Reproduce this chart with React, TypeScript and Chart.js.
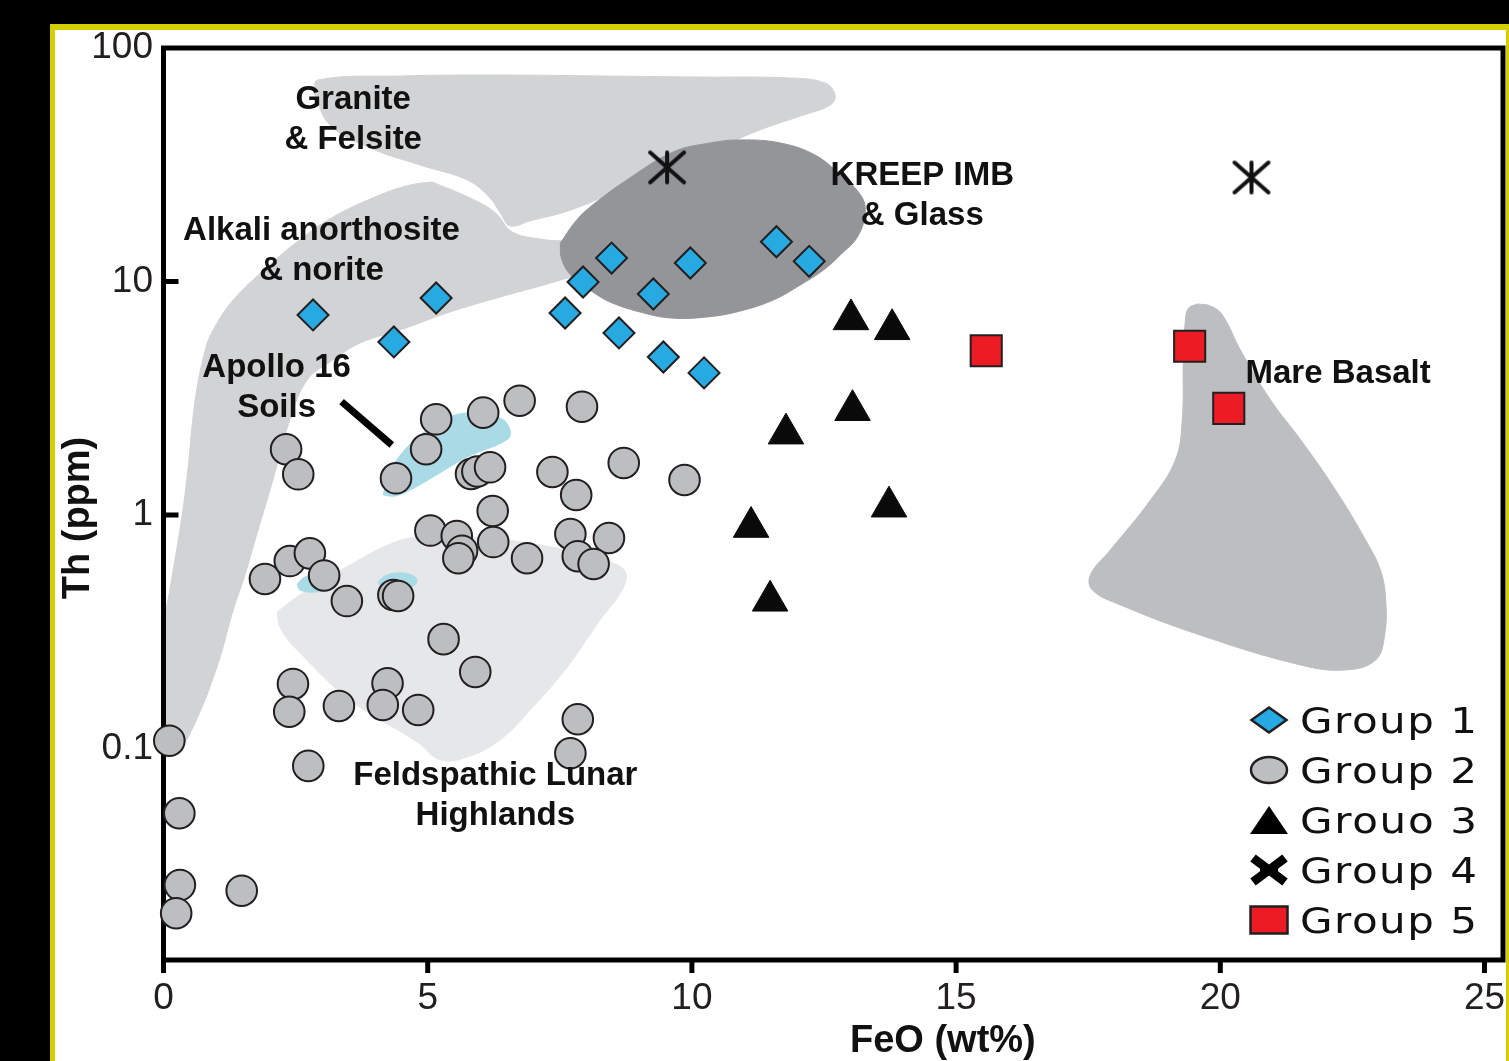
import React, { useEffect, useRef } from 'react';
import { Chart, registerables } from 'chart.js';

Chart.register(...registerables);

// ---------- axes ----------
const xTickValues = [0, 5, 10, 15, 20, 25];
const xTickLabels = ['0', '5', '10', '15', '20', '25'];
const yTickValues = [0.1, 1, 10, 100];
const yTickLabels = ['0.1', '1', '10', '100'];
const xMin = 0;
const xMax = 25.35;
const yMin = 0.01242;
const yMax = 100;
const xTitle = 'FeO (wt%)';
const yTitle = 'Th (ppm)';

const seriesNames = ['Group 1', 'Group 2', 'Grouo 3', 'Group 4', 'Group 5'];

// ---------- series (FeO wt%, Th ppm) ----------
const group1FeO = [2.83, 4.36, 5.16, 7.6, 7.94, 8.48, 8.62, 9.27, 9.46, 9.97, 10.23, 11.6, 12.22];
const group1Th = [7.19, 5.51, 8.5, 7.33, 9.95, 12.6, 6.02, 8.84, 4.75, 12.0, 4.06, 14.8, 12.2];

const group2FeO = [
  2.32, 2.55, 4.4, 4.97, 5.16, 6.05, 6.74, 7.92,
  5.82, 5.94, 6.18, 7.36, 7.81, 8.71, 9.86,
  6.23, 5.05, 5.55, 5.65, 5.58, 6.24, 6.88, 7.7, 8.43, 7.84, 8.14,
  1.92, 2.39, 2.77, 3.04, 3.47, 4.35, 4.44, 5.3, 5.9,
  2.45, 2.38, 3.32, 4.24, 4.15, 4.82,
  0.11, 2.74, 7.84, 7.7, 0.3, 0.31, 1.48, 0.24,
];
const group2Th = [
  1.912, 1.494, 1.436, 1.912, 2.57, 2.743, 3.087, 2.909,
  1.498, 1.536, 1.601, 1.528, 1.218, 1.67, 1.412,
  1.04, 0.858, 0.813, 0.703, 0.653, 0.766, 0.653, 0.829, 0.797, 0.666, 0.617,
  0.532, 0.635, 0.685, 0.551, 0.428, 0.454, 0.45, 0.294, 0.2127,
  0.1889, 0.1437, 0.1521, 0.1902, 0.1536, 0.1462,
  0.108, 0.0842, 0.1334, 0.0954, 0.0528, 0.026, 0.0246, 0.0197,
];

const group3FeO = [13.01, 13.79, 13.04, 11.78, 13.73, 11.12, 11.48];
const group3Th = [6.88, 6.24, 2.81, 2.23, 1.085, 0.888, 0.429];

const group4FeO = [9.53, 20.59];
const group4Th = [30.8, 27.9];

const group5FeO = [15.57, 19.42, 20.16];
const group5Th = [5.05, 5.28, 2.86];

// ---------- compositional fields (FeO, Th) ----------
const graniteOutline: [number, number][] = [
  [2.85, 64.2], [2.92, 72.9], [4.48, 75.9], [6.37, 76.6], [8.26, 75.9], [10.16, 75.1], [11.86, 74.4],
  [12.52, 70.8], [12.71, 62.9], [12.62, 57.0], [12.05, 51.1], [11.29, 44.6], [10.54, 37.7], [9.78, 31.5],
  [8.64, 24.7], [7.7, 20.2], [6.94, 18.2], [6.56, 17.3], [6.37, 19.7], [6.18, 22.8], [5.75, 27.2],
  [4.86, 31.5], [3.91, 37.3], [3.15, 46.8],
];
const alkaliOutline: [number, number][] = [
  [5.08, 26.7], [5.8, 22.8], [6.28, 19.7], [6.6, 16.3], [7.22, 15.1], [7.98, 14.3], [7.98, 11.2],
  [7.51, 10.15], [6.37, 8.58], [5.42, 7.4], [4.48, 6.2], [3.72, 5.45], [3.15, 4.52], [2.72, 3.79],
  [2.39, 2.55], [2.07, 1.41], [1.79, 0.863], [1.54, 0.553], [1.32, 0.392], [1.01, 0.223], [0.56, 0.1236],
  [0.27, 0.0986], [0.05, 0.1035], [0.01, 0.1613], [0.03, 0.355], [0.12, 0.477], [0.31, 0.863],
  [0.44, 1.41], [0.6, 3.11], [0.79, 5.09], [0.94, 6.2], [1.32, 8.33], [1.96, 11.5], [2.58, 15.1],
  [3.21, 18.9], [4.1, 23.5], [4.67, 25.9],
];
const kreepOutline: [number, number][] = [
  [7.51, 14.6], [7.79, 18.0], [8.07, 20.8], [8.83, 27.8], [9.65, 35.9], [10.35, 39.2], [10.92, 40.4],
  [11.67, 39.2], [12.33, 34.8], [12.81, 28.6], [13.19, 23.5], [13.28, 19.8], [13.13, 15.5], [12.81, 13.0],
  [12.49, 11.2], [12.05, 9.66], [11.54, 8.33], [10.92, 7.48], [10.29, 7.05], [9.59, 6.98], [9.02, 7.4],
  [8.45, 8.17], [8.07, 9.2], [7.7, 10.7], [7.53, 12.6],
];
const mareOutline: [number, number][] = [
  [19.57, 8.01], [19.81, 7.86], [20.04, 7.19], [20.38, 5.09], [20.95, 3.11], [21.52, 2.1], [22.18, 1.28],
  [22.75, 0.781], [23.03, 0.581], [23.13, 0.4325], [23.11, 0.306], [22.94, 0.2393], [22.37, 0.2169],
  [21.52, 0.2278], [19.62, 0.306], [18.11, 0.412], [17.58, 0.477], [17.54, 0.553], [17.92, 0.708],
  [18.68, 1.159], [19.15, 1.72], [19.28, 2.55], [19.3, 4.61], [19.34, 6.84], [19.4, 7.7],
];
const feldspathicOutline: [number, number][] = [
  [2.15, 0.384], [2.58, 0.454], [3.53, 0.611], [4.38, 0.766], [4.86, 0.805], [5.8, 0.805], [7.13, 0.744],
  [8.45, 0.629], [8.74, 0.57], [8.68, 0.477], [8.26, 0.355], [7.64, 0.223], [6.99, 0.1505], [6.37, 0.1088],
  [5.75, 0.092], [5.24, 0.0893], [4.8, 0.1066], [3.53, 0.1613], [2.53, 0.264], [2.21, 0.328],
];
const apolloSoilOutline: [number, number][] = [
  [4.16, 1.218], [4.25, 1.483], [4.44, 1.754], [4.76, 2.1], [5.23, 2.5], [5.71, 2.73], [6.37, 2.6],
  [6.56, 2.31], [6.5, 2.1], [5.75, 1.772], [5.1, 1.454], [4.67, 1.28], [4.38, 1.206],
];
const apolloPatchA: [number, number][] = [
  [2.53, 0.506], [2.68, 0.543], [2.93, 0.553], [3.15, 0.527], [3.15, 0.487], [2.87, 0.468], [2.58, 0.477],
];
const apolloPatchB: [number, number][] = [
  [4.06, 0.516], [4.19, 0.548], [4.44, 0.565], [4.7, 0.553], [4.8, 0.522], [4.67, 0.487], [4.38, 0.477], [4.14, 0.487],
];
const apolloPointer: [number, number][] = [[3.37, 3.06], [4.32, 1.994]];

const regionLabels = [
  { lines: ['Granite', '& Felsite'], feo: 3.59, th: 49.2 },
  { lines: ['Alkali anorthosite', '& norite'], feo: 2.99, th: 13.5 },
  { lines: ['Apollo 16', 'Soils'], feo: 2.14, th: 3.5 },
  { lines: ['KREEP IMB', '& Glass'], feo: 14.36, th: 23.2 },
  { lines: ['Mare Basalt'], feo: 22.23, th: 4.02 },
  { lines: ['Feldspathic Lunar', 'Highlands'], feo: 6.28, th: 0.0626 },
];

const FONT = "'Liberation Sans', Arial, Helvetica, sans-serif";

function pts(xs: number[], ys: number[]) {
  return xs.map((x, i) => ({ x, y: ys[i] }));
}
function ring(outline: [number, number][]) {
  return [...outline, outline[0]].map(([x, y]) => ({ x, y }));
}

function makeAsterisk() {
  const c = document.createElement('canvas');
  c.width = 40;
  c.height = 36;
  const g = c.getContext('2d')!;
  g.strokeStyle = '#111';
  g.lineWidth = 4;
  g.lineCap = 'round';
  g.beginPath();
  g.moveTo(20, 3); g.lineTo(20, 33);
  g.moveTo(3, 3); g.lineTo(37, 33);
  g.moveTo(3, 33); g.lineTo(37, 3);
  g.stroke();
  return c;
}

function drawMarker(ctx: CanvasRenderingContext2D, kind: string, x: number, y: number, ds: any) {
  ctx.save();
  ctx.lineWidth = 2.5;
  ctx.strokeStyle = '#231f20';
  ctx.fillStyle = ds.backgroundColor;
  ctx.beginPath();
  if (kind === 'diamond') {
    ctx.moveTo(x - 17.5, y); ctx.lineTo(x, y - 12.5); ctx.lineTo(x + 17.5, y); ctx.lineTo(x, y + 12.5); ctx.closePath();
    ctx.fill(); ctx.stroke();
  } else if (kind === 'ellipse') {
    ctx.ellipse(x, y, 18, 13, 0, 0, Math.PI * 2);
    ctx.fill(); ctx.stroke();
  } else if (kind === 'triangle') {
    ctx.moveTo(x, y - 14); ctx.lineTo(x + 19, y + 14); ctx.lineTo(x - 19, y + 14); ctx.closePath();
    ctx.fillStyle = '#000';
    ctx.fill();
  } else if (kind === 'cross') {
    ctx.strokeStyle = '#000';
    ctx.lineWidth = 9;
    ctx.moveTo(x - 16, y - 12); ctx.lineTo(x + 16, y + 12);
    ctx.moveTo(x - 16, y + 12); ctx.lineTo(x + 16, y - 12);
    ctx.stroke();
    ctx.beginPath();
    ctx.lineWidth = 7;
    ctx.moveTo(x - 9, y); ctx.lineTo(x + 9, y);
    ctx.stroke();
  } else if (kind === 'square') {
    ctx.rect(x - 18.5, y - 13.5, 37, 27);
    ctx.fill(); ctx.stroke();
  }
  ctx.restore();
}

const framePlugin = {
  id: 'frameAndTicks',
  afterDatasetDraw(chart: any, args: any) {
    const ds = chart.data.datasets[args.index];
    if (!ds.drawFrameAfter) return;
    const { ctx, chartArea: a, scales } = chart;
    ctx.save();
    ctx.strokeStyle = '#000';
    ctx.lineWidth = 5;
    ctx.strokeRect(a.left, a.top, a.right - a.left, a.bottom - a.top);
    ctx.beginPath();
    xTickValues.forEach((v) => {
      const p = scales.x.getPixelForValue(v);
      ctx.moveTo(p, a.bottom);
      ctx.lineTo(p, a.bottom + 13);
    });
    yTickValues.forEach((v) => {
      const p = scales.y.getPixelForValue(v);
      if (p > a.top + 4) {
        ctx.moveTo(a.left, p);
        ctx.lineTo(a.left + 15, p);
      }
    });
    ctx.stroke();
    ctx.restore();
  },
};

const labelsPlugin = {
  id: 'regionLabels',
  afterDatasetsDraw(chart: any) {
    const { ctx, scales } = chart;
    ctx.save();
    ctx.font = `bold 33px ${FONT}`;
    ctx.fillStyle = '#111';
    ctx.textAlign = 'center';
    ctx.textBaseline = 'middle';
    regionLabels.forEach((l) => {
      const cx = scales.x.getPixelForValue(l.feo);
      const cy = scales.y.getPixelForValue(l.th);
      l.lines.forEach((t, i) => ctx.fillText(t, cx, cy + (i - (l.lines.length - 1) / 2) * 40));
    });
    ctx.restore();
  },
};

const titlesAndLegendPlugin = {
  id: 'titlesAndLegend',
  afterDraw(chart: any) {
    const { ctx, chartArea: a, scales } = chart;
    ctx.save();
    ctx.fillStyle = '#111';
    ctx.font = `bold 38px ${FONT}`;
    ctx.textAlign = 'center';
    ctx.textBaseline = 'alphabetic';
    ctx.fillText(xTitle, scales.x.getPixelForValue(14.75), a.bottom + 92);
    ctx.save();
    ctx.translate(a.left - 74.5, (a.top + a.bottom) / 2 + 14);
    ctx.rotate(-Math.PI / 2);
    ctx.fillText(yTitle, 0, 0);
    ctx.restore();

    const items = chart.data.datasets.filter((d: any) => d.legendMarker);
    ctx.font = `35px 'DejaVu Sans', sans-serif`;
    ctx.textAlign = 'left';
    const stretch = 1.2;
    items.forEach((d: any, i: number) => {
      const y = a.bottom - 240 + i * 50;
      drawMarker(ctx, d.legendMarker, a.right - 234, y, d);
      (ctx as any).letterSpacing = '0px';
      const w0 = ctx.measureText(d.label).width * stretch;
      const extra = Math.max(0, (177 - w0) / (d.label.length - 1) / stretch);
      (ctx as any).letterSpacing = `${extra.toFixed(2)}px`;
      ctx.fillStyle = '#111';
      ctx.save();
      ctx.translate(a.right - 203, y + 12.5);
      ctx.scale(stretch, 1);
      ctx.fillText(d.label, 0, 0);
      ctx.restore();
    });
    ctx.restore();
  },
};

function region(label: string, outline: [number, number][], color: string, order: number) {
  return {
    type: 'line',
    label,
    data: ring(outline),
    backgroundColor: color,
    borderColor: color,
    borderWidth: 1,
    pointRadius: 0,
    pointHoverRadius: 0,
    fill: 'shape',
    tension: 0.4,
    order,
  };
}

export default function App() {
  const ref = useRef<HTMLCanvasElement>(null);

  useEffect(() => {
    const asterisk = makeAsterisk();
    const datasets: any[] = [
      region('Feldspathic Lunar Highlands', feldspathicOutline, '#e6e7e8', 10),
      region('Mare Basalt', mareOutline, '#bcbec0', 9),
      region('Granite & Felsite', graniteOutline, '#d1d3d4', 8),
      region('Alkali anorthosite & norite', alkaliOutline, '#d1d3d4', 7),
      region('KREEP IMB & Glass', kreepOutline, '#939598', 6),
      region('Apollo 16 Soils', apolloSoilOutline, '#a9dbe6', 5),
      region('Apollo 16 Soils (a)', apolloPatchA, '#a9dbe6', 5),
      region('Apollo 16 Soils (b)', apolloPatchB, '#a9dbe6', 5),
      {
        type: 'line',
        label: 'Apollo 16 pointer',
        data: apolloPointer.map(([x, y]) => ({ x, y })),
        borderColor: '#000',
        borderWidth: 7,
        borderCapStyle: 'butt',
        pointRadius: 0,
        pointHoverRadius: 0,
        fill: false,
        order: 4,
        drawFrameAfter: true,
      },
      {
        type: 'scatter',
        label: seriesNames[0],
        data: pts(group1FeO, group1Th),
        pointStyle: 'rectRot',
        pointRadius: 15.5,
        pointHoverRadius: 15.5,
        backgroundColor: '#27aae1',
        pointBackgroundColor: '#27aae1',
        borderColor: '#231f20',
        pointBorderColor: '#231f20',
        borderWidth: 2,
        pointBorderWidth: 2,
        clip: false,
        order: 2,
        legendMarker: 'diamond',
      },
      {
        type: 'scatter',
        label: seriesNames[1],
        data: pts(group2FeO, group2Th),
        pointStyle: 'circle',
        pointRadius: 15.3,
        pointHoverRadius: 15.3,
        backgroundColor: '#bcbec0',
        pointBackgroundColor: '#bcbec0',
        borderColor: '#231f20',
        pointBorderColor: '#231f20',
        borderWidth: 2,
        pointBorderWidth: 2,
        clip: false,
        order: 3,
        legendMarker: 'ellipse',
      },
      {
        type: 'scatter',
        label: seriesNames[2],
        data: pts(group3FeO, group3Th),
        pointStyle: 'triangle',
        pointRadius: 20.5,
        pointHoverRadius: 20.5,
        backgroundColor: '#0a0a0a',
        pointBackgroundColor: '#0a0a0a',
        borderColor: '#0a0a0a',
        pointBorderColor: '#0a0a0a',
        borderWidth: 1,
        pointBorderWidth: 1,
        clip: false,
        order: 1,
        legendMarker: 'triangle',
      },
      {
        type: 'scatter',
        label: seriesNames[3],
        data: pts(group4FeO, group4Th),
        pointStyle: asterisk,
        pointRadius: 18,
        backgroundColor: '#000',
        borderColor: '#000',
        clip: false,
        order: 1,
        legendMarker: 'cross',
      },
      {
        type: 'scatter',
        label: seriesNames[4],
        data: pts(group5FeO, group5Th),
        pointStyle: 'rect',
        pointRadius: 22,
        pointHoverRadius: 22,
        backgroundColor: '#ed1c24',
        pointBackgroundColor: '#ed1c24',
        borderColor: '#231f20',
        pointBorderColor: '#231f20',
        borderWidth: 2,
        pointBorderWidth: 2,
        clip: false,
        order: 1,
        legendMarker: 'square',
      },
    ];

    const chart = new Chart(ref.current as HTMLCanvasElement, {
      type: 'scatter',
      data: { datasets },
      options: {
        responsive: true,
        maintainAspectRatio: false,
        animation: false,
        events: [],
        layout: { autoPadding: false, padding: { left: 0, top: 18, right: 3, bottom: 0 } },
        plugins: { legend: { display: false }, tooltip: { enabled: false } },
        scales: {
          x: {
            type: 'linear',
            min: xMin,
            max: xMax,
            bounds: 'data',
            grid: { display: false, drawTicks: false },
            border: { display: false },
            afterBuildTicks: (s: any) => {
              s.ticks = xTickValues.map((v) => ({ value: v }));
            },
            afterFit: (s: any) => {
              s.height = 101;
              s.paddingLeft = 0;
              s.paddingRight = 0;
            },
            ticks: {
              autoSkip: false,
              maxRotation: 0,
              minRotation: 0,
              padding: 17,
              color: '#231f20',
              font: { family: FONT, size: 37 },
              callback: (_v: any, i: number) => xTickLabels[i],
            },
          },
          y: {
            type: 'logarithmic',
            min: yMin,
            max: yMax,
            bounds: 'data',
            grid: { display: false, drawTicks: false },
            border: { display: false },
            afterBuildTicks: (s: any) => {
              s.ticks = yTickValues.map((v) => ({ value: v }));
            },
            afterFit: (s: any) => {
              s.width = 108.5;
              s.paddingTop = 0;
              s.paddingBottom = 0;
            },
            ticks: {
              autoSkip: false,
              padding: 10.5,
              color: '#231f20',
              font: { family: FONT, size: 37 },
              callback: (_v: any, i: number) => yTickLabels[i],
            },
          },
        },
      } as any,
      plugins: [framePlugin, labelsPlugin, titlesAndLegendPlugin],
    } as any);
    return () => chart.destroy();
  }, []);

  return (
    <div
      style={{
        position: 'fixed',
        left: 0,
        top: 0,
        width: 1509,
        height: 1061,
        background: '#000',
        overflow: 'hidden',
      }}
    >
      <div style={{ position: 'absolute', left: 50, top: 24, width: 1459, height: 1100, background: '#d4cf00' }}>
        <div style={{ position: 'absolute', left: 5, top: 6, width: 1451, height: 1090, background: '#fff' }}>
          <div style={{ position: 'relative', width: 1451, height: 1031 }}>
            <canvas ref={ref} />
          </div>
        </div>
      </div>
    </div>
  );
}
